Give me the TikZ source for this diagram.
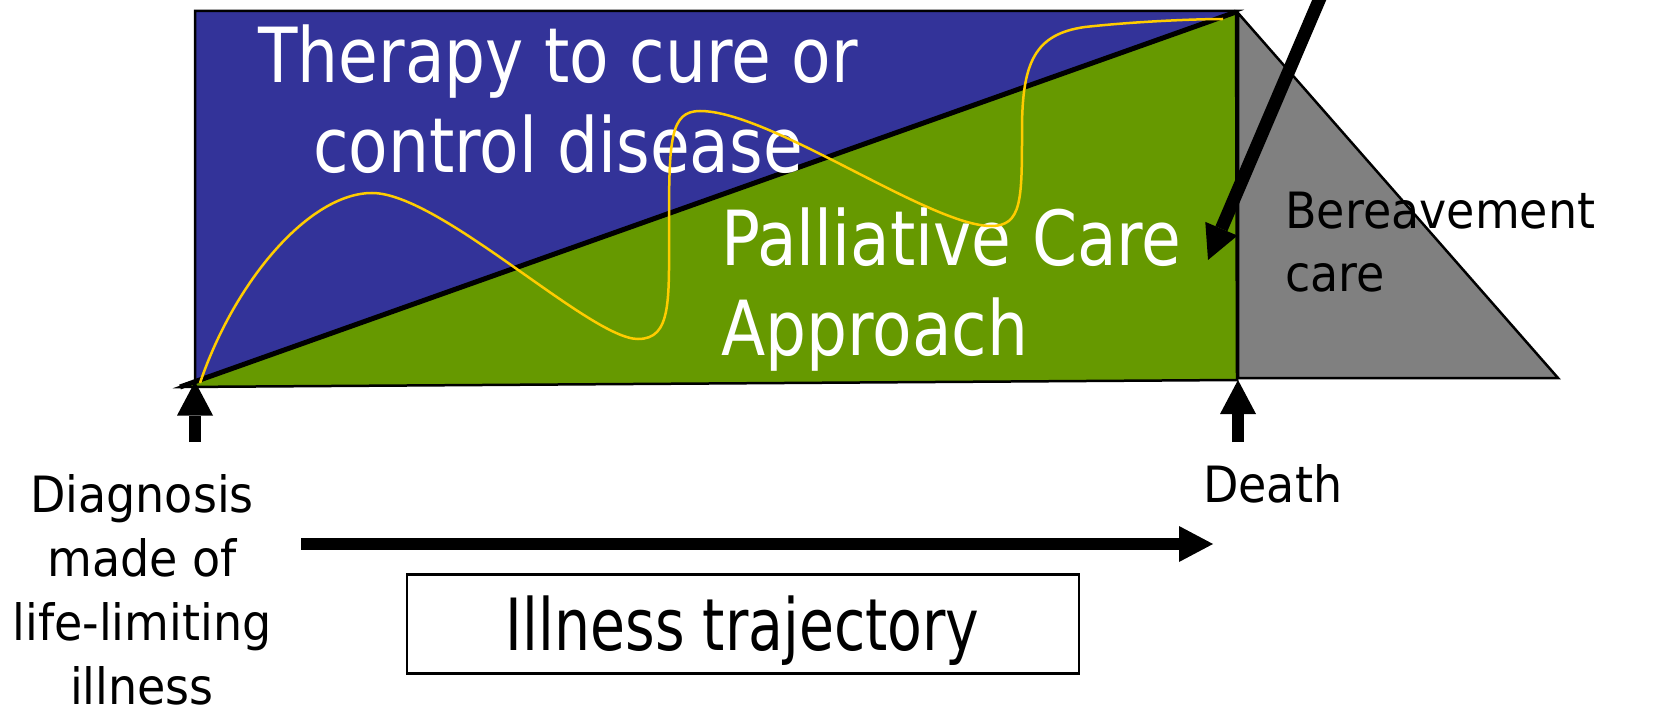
\documentclass[tikz,border=0pt]{standalone}
\usepackage{fontspec}
\setmainfont{DejaVu Sans}
\newfontfamily\bigfont{DejaVu Sans}[FakeStretch=0.85]
\newfontfamily\smallfont{DejaVu Sans}[FakeStretch=0.92]
\newfontfamily\boxfont{DejaVu Sans}[FakeStretch=0.79]
\usetikzlibrary{arrows.meta}
\definecolor{therapyblue}{HTML}{333399}
\definecolor{palliativegreen}{HTML}{669900}
\definecolor{bereavegray}{HTML}{808080}
\definecolor{curveyellow}{HTML}{FFCC00}
\begin{document}
\begin{tikzpicture}[x=1pt,y=-1pt,
  region/.style={draw=black,line width=2.5pt,line join=miter},
  bigtext/.style={text=white,inner sep=0pt,font=\bigfont\fontsize{76}{90}\selectfont},
  smalltext/.style={text=black,inner sep=0pt,font=\smallfont\fontsize{50}{63}\selectfont},
  fatarrow/.style={line width=12pt,-{Triangle[length=34pt,width=36pt,line width=0pt]}},
]
\useasboundingbox (0,0) rectangle (1653,711);
\fill[white] (0,0) rectangle (1653,711);

% regions
\draw[region,fill=therapyblue] (195,387) -- (195,11) -- (1237,11) -- cycle;
\draw[region,fill=palliativegreen] (180,387) -- (1236,12) -- (1237,380) -- cycle;
\draw[region,fill=bereavegray] (1238,13) -- (1558,378) -- (1238,378) -- cycle;
\draw[line width=5pt] (180,387) -- (1236,12);

% texts (base anchor = baseline of the last line)
\node[bigtext,align=center,anchor=base] (therapy) at (558,173) {Therapy to cure or\\control disease};
\node[bigtext,align=left,anchor=base west] (palliative) at (721,355) {Palliative Care\\Approach};
\node[smalltext,align=left,anchor=base west] (bereave) at (1285,291.5) {Bereavement\\care};
\node[smalltext,anchor=base west] (death) at (1203,502) {Death};
\node[smalltext,font=\smallfont\fontsize{50}{64}\selectfont,align=center,anchor=base] (diagnosis) at (142,704) {Diagnosis\\made of\\life-limiting\\illness};
\node[draw,line width=2.5pt,minimum width=672pt,minimum height=99pt,inner sep=0pt,
      text height=52pt,text depth=0pt,font=\boxfont\fontsize{72}{86}\selectfont] (illness) at (742.75,624) {Illness trajectory};

% yellow trajectory curve
\draw[curveyellow,line width=2.5pt] (200,383) .. controls (235,280) and (310,193) .. (372,193)
  .. controls (440,193) and (590,339) .. (638,339)
  .. controls (672,339) and (669,300) .. (669,225)
  .. controls (669,140) and (670,111) .. (700,111)
  .. controls (770,111) and (930,226) .. (991,226)
  .. controls (1022,226) and (1022,200) .. (1022,130)
  .. controls (1022,62) and (1035,34) .. (1085,27)
  .. controls (1140,21) and (1200,19) .. (1223,19);

% arrows
\coordinate (diagTail) at (195,442);
\coordinate (diagTip) at (195,381.5);
\draw[fatarrow] (diagTail) -- (diagTip);
\coordinate (deathTail) at (1238,442);
\coordinate (deathTip) at (1238,380);
\draw[fatarrow] (deathTail) -- (deathTip);
\coordinate (trajStart) at (301,544);
\coordinate (trajEnd) at (1213,544);
\draw[fatarrow] (trajStart) -- (trajEnd);
\begin{scope}
\clip (0,0) rectangle (1653,711);
\coordinate (focusStart) at (1332,-30);
\coordinate (focusTip) at (1208,260);
\draw[line width=13pt,-{Triangle[length=34pt,width=35pt,line width=0pt]}] (focusStart) -- (focusTip);
\end{scope}
\end{tikzpicture}
\end{document}
